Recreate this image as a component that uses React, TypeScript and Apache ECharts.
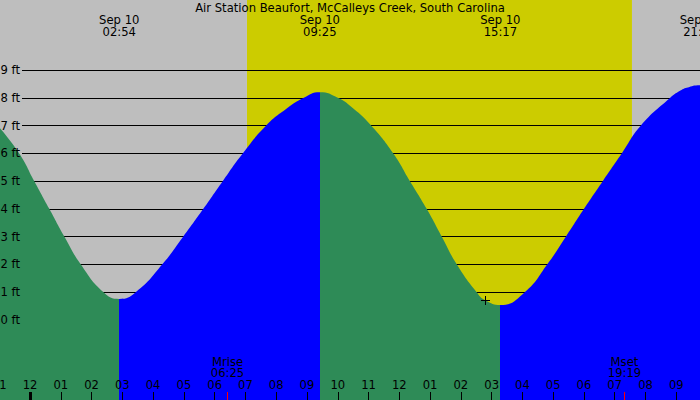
import { useEffect, useRef } from 'react'
import * as echarts from 'echarts'

// tide curve: hours from midnight Sep 10, height in ft
const tideHours = [
  -1.0, -0.35, 0.14, 0.627, 1.115, 1.647, 2.381, 2.9, 3.444, 4.3,
  4.981, 5.631, 6.261, 6.911, 7.668, 8.341, 8.88, 9.417, 10.017, 10.505,
  11.048, 11.805, 12.347, 12.89, 13.377, 13.865, 14.508, 14.79, 15.283,
  16.084, 16.809, 17.416, 18.001, 18.609, 19.226, 19.843, 20.795, 21.12, 21.34,
  21.767, 22.0
]
const tideFeet = [
  6.94, 6.0, 5.0, 4.0, 3.0, 2.0, 1.0, 0.75, 1.0, 2.0,
  3.0, 4.0, 5.0, 6.0, 7.0, 7.62, 8.0, 8.21, 8.0, 7.62,
  7.05, 6.0, 5.0, 4.0, 3.0, 2.0, 1.0, 0.7, 0.53,
  1.0, 2.0, 3.0, 4.0, 5.0, 6.0, 7.0, 8.0, 8.26, 8.37,
  8.46, 8.45
]

// lows and highs (first one is a low)
const turnHours = [2.9, 9.4167, 15.2833, 21.7667]
const turnTimes = ['02:54', '09:25', '15:17', '21:46']
const turnDate = 'Sep 10'

const sunriseHour = 7.05
const sunsetHour = 19.56

const moonHours = [6.4167, 19.3167]
const moonNames = ['Mrise', 'Mset']
const moonTimes = ['06:25', '19:19']

const nowHour = 14.79
const nowFeet = 0.7

const midnightHours = [0]

const title = 'Air Station Beaufort, McCalleys Creek, South Carolina'

const hourMin = -1
const hourMax = 22
const feetMin = 0
const feetMax = 9

// layout
const W = 700
const H = 400
const MIDNIGHT_X = 30
const PX_PER_HOUR = 30.776
const ZERO_Y = 319.7
const PX_PER_FT = 27.71
const yMax = ZERO_Y / PX_PER_FT
const yMin = -(H - ZERO_Y) / PX_PER_FT

const FONT = 'DejaVu Sans'
const FS = 11.6
const NIGHT = '#BEBEBE'
const DAY = '#CCCC00'
const EBB = '#2E8B57'
const FLOOD = '#0000FF'

function hourLabel(v: number): string {
  if (v > 21) return ''
  const h = ((v % 12) + 12) % 12
  return h === 0 ? '12' : String(h).padStart(2, '0')
}

function App() {
  const chartRef = useRef<HTMLDivElement>(null)

  useEffect(() => {
    document.body.style.margin = '0'
    const chart = echarts.init(chartRef.current, null, { renderer: 'svg' })

    // ebb before the first low, then alternate flood / ebb
    const bounds = [hourMin, ...turnHours, hourMax]
    const pieces = bounds.slice(0, -1).map((b, i) => ({
      gte: b,
      lt: i === bounds.length - 2 ? hourMax + 1 : bounds[i + 1],
      color: i % 2 === 0 ? EBB : FLOOD
    }))

    const textStyle = {
      fill: '#000',
      fontSize: FS,
      fontFamily: FONT,
      align: 'center',
      verticalAlign: 'middle'
    }

    // two stacked lines of text centred on x
    const twoLines = (x: number, y1: number, y2: number, a: string, b: string) => ({
      type: 'group',
      children: [
        { type: 'text', style: { ...textStyle, x, y: y1, text: a } },
        { type: 'text', style: { ...textStyle, x, y: y2, text: b } }
      ]
    })

    chart.setOption({
      animation: false,
      title: {
        text: title,
        left: 'center',
        top: 1.5,
        padding: 0,
        textStyle: { fontSize: FS, fontWeight: 'normal', fontFamily: FONT, color: '#000' }
      },
      grid: [
        {
          left: MIDNIGHT_X + hourMin * PX_PER_HOUR,
          width: (hourMax - hourMin) * PX_PER_HOUR,
          top: 0,
          height: H,
          outerBoundsMode: 'none'
        },
        {
          left: 22,
          right: 0,
          top: ZERO_Y - feetMax * PX_PER_FT,
          height: (feetMax - feetMin) * PX_PER_FT,
          outerBoundsMode: 'none'
        }
      ],
      xAxis: [
        {
          type: 'value',
          gridIndex: 0,
          min: hourMin,
          max: hourMax,
          interval: 1,
          z: 5,
          axisLine: { show: false, onZero: false },
          splitLine: { show: false },
          axisTick: { inside: true, length: 8, lineStyle: { color: '#000', width: 1 } },
          axisLabel: {
            inside: true,
            margin: 9,
            color: '#000',
            fontSize: FS,
            fontFamily: FONT,
            showMinLabel: true,
            showMaxLabel: true,
            formatter: hourLabel
          }
        },
        { type: 'value', gridIndex: 1, show: false, min: 0, max: 1 }
      ],
      yAxis: [
        { type: 'value', gridIndex: 0, show: false, min: yMin, max: yMax },
        {
          type: 'value',
          gridIndex: 1,
          min: feetMin,
          max: feetMax,
          interval: 1,
          axisLine: { show: false },
          axisTick: { show: false },
          axisLabel: { show: false },
          splitLine: { lineStyle: { color: '#000', width: 1 } }
        },
        {
          type: 'value',
          gridIndex: 1,
          position: 'left',
          min: feetMin,
          max: feetMax,
          interval: 1,
          z: 5,
          axisLine: { show: false },
          axisTick: { show: false },
          splitLine: { show: false },
          axisLabel: {
            margin: 2,
            color: '#000',
            fontSize: FS,
            fontFamily: FONT,
            formatter: '{value} ft'
          }
        }
      ],
      visualMap: {
        type: 'piecewise',
        show: false,
        dimension: 0,
        seriesIndex: 1,
        pieces
      },
      series: [
        {
          type: 'custom',
          z: -1,
          xAxisIndex: 0,
          yAxisIndex: 0,
          data: [
            [hourMin, sunriseHour, 0],
            [sunriseHour, sunsetHour, 1],
            [sunsetHour, hourMax, 0]
          ],
          renderItem: (_p: any, api: any) => {
            const a = api.coord([api.value(0), yMax])
            const b = api.coord([api.value(1), yMin])
            return {
              type: 'rect',
              shape: { x: a[0], y: a[1], width: b[0] - a[0], height: b[1] - a[1] },
              style: { fill: api.value(2) ? DAY : NIGHT }
            }
          }
        },
        {
          type: 'line',
          xAxisIndex: 0,
          yAxisIndex: 0,
          smooth: true,
          symbol: 'none',
          lineStyle: { width: 0 },
          areaStyle: { opacity: 1, origin: 'start' },
          data: tideHours.map((h, i) => [h, tideFeet[i]])
        },
        {
          type: 'custom',
          z: 4,
          xAxisIndex: 0,
          yAxisIndex: 0,
          data: [[nowHour, nowFeet]],
          renderItem: (_p: any, api: any) => {
            const c = api.coord([api.value(0), api.value(1)])
            const x = Math.round(c[0]) + 0.5
            const y = Math.round(c[1]) + 0.5
            const s = { stroke: '#000', lineWidth: 1 }
            return {
              type: 'group',
              children: [
                { type: 'line', shape: { x1: x - 4.5, y1: y, x2: x + 4.5, y2: y }, style: s },
                { type: 'line', shape: { x1: x, y1: y - 4.5, x2: x, y2: y + 4.5 }, style: s }
              ]
            }
          }
        },
        {
          type: 'custom',
          z: 5,
          xAxisIndex: 0,
          yAxisIndex: 0,
          data: turnHours.map((h) => [h, 0]),
          renderItem: (p: any, api: any) => {
            const c = api.coord([api.value(0), 0])
            return twoLines(c[0], 19.8, 31.8, turnDate, turnTimes[p.dataIndex])
          }
        },
        {
          type: 'custom',
          z: 5,
          xAxisIndex: 0,
          yAxisIndex: 0,
          data: moonHours.map((h) => [h, 0]),
          renderItem: (p: any, api: any) => {
            const c = api.coord([api.value(0), 0])
            const g = twoLines(c[0], 361.6, 373.4, moonNames[p.dataIndex], moonTimes[p.dataIndex])
            g.children.push({
              type: 'rect',
              shape: { x: Math.round(c[0] - 0.5), y: 392, width: 1, height: 8 },
              style: { fill: '#FF0000' }
            } as any)
            return g
          }
        },
        {
          type: 'custom',
          z: 5,
          xAxisIndex: 0,
          yAxisIndex: 0,
          data: midnightHours.map((h) => [h, 0]),
          renderItem: (_p: any, api: any) => {
            const c = api.coord([api.value(0), 0])
            return {
              type: 'rect',
              shape: { x: Math.round(c[0] - 1.5), y: 392, width: 3, height: 8 },
              style: { fill: '#000' }
            }
          }
        }
      ]
    })

    return () => {
      chart.dispose()
    }
  }, [])

  return <div ref={chartRef} style={{ width: W + 'px', height: H + 'px' }}></div>
}

export default App
